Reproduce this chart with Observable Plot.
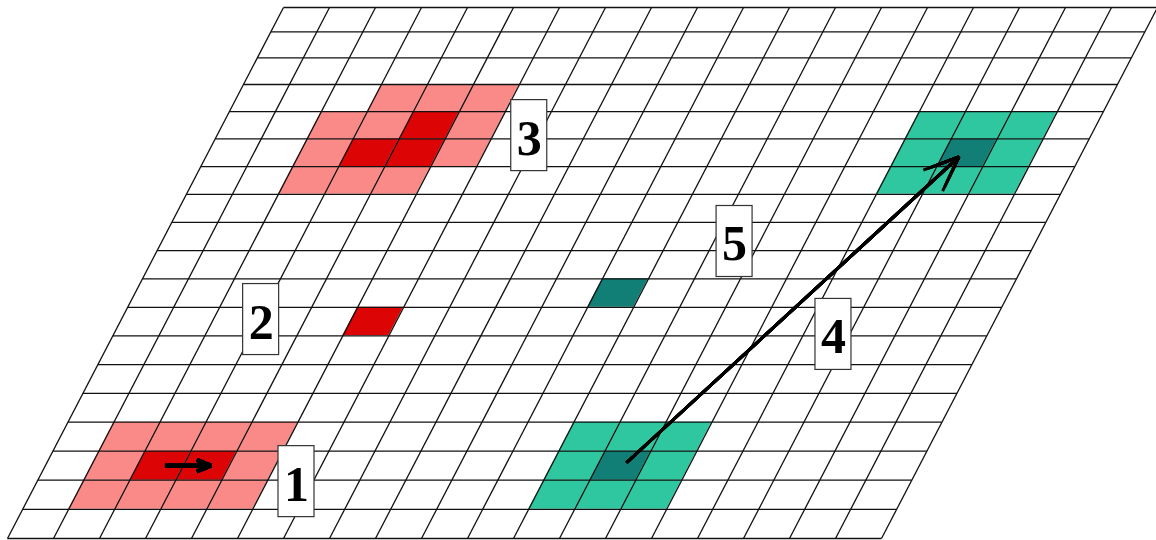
<!DOCTYPE html>
<html><head><meta charset="utf-8">
<script src="https://cdn.jsdelivr.net/npm/d3@7"></script>
<script src="https://cdn.jsdelivr.net/npm/@observablehq/plot@0.6"></script>
<style>html,body{margin:0;padding:0;background:#fff;} #chart svg{display:block}</style>
</head><body><div id="chart"></div>
<script>
// grid size (columns x rows)
const NCOLS = 19, NROWS = 19;
// coloured cells as [row, col] (row 0 = top, col 0 = left of each row)
const lightRedCells = [[3,3],[3,4],[3,5],[4,2],[4,3],[4,5],[5,2],[5,5],[6,2],[6,3],[6,4],
  [15,1],[15,2],[15,3],[15,4],[16,1],[16,4],[17,1],[17,2],[17,3],[17,4]];
const darkRedCells = [[4,4],[5,3],[5,4],[16,2],[16,3],[11,5]];
const lightTealCells = [[4,15],[4,16],[4,17],[5,15],[5,17],[6,15],[6,16],[6,17],
  [15,11],[15,12],[15,13],[16,11],[16,13],[17,11],[17,12],[17,13]];
const darkTealCells = [[5,16],[16,12],[10,10]];
const cellColors = {lightRed: "#f98a88", darkRed: "#dc0404", lightTeal: "#2fc79f", darkTeal: "#117f75"};
// numbered labels, positioned in grid units
const labelTexts = ["1","2","3","4","5"];
const labelCols = [5.64, 3.04, 6.79, 15.65, 12.45];
const labelRows = [17.05, 11.43, 4.88, 11.95, 8.68];
// arrows, [col, row] in grid units
const arrowFrom = [[2.6, 16.5], [12.6, 16.4]];
const arrowTo = [[3.6, 16.5], [16.37, 5.65]];
const arrowWidths = [4, 3];
const arrowHeads = [15, 19];

// geometry of the slanted grid
const SKEW = 6;        // horizontal shift of the top edge, in columns
const EXP = 1.046;     // slight perspective of the rows
const gx = (c, r) => c + SKEW * (1 - Math.pow(r / NROWS, EXP));

const cellPts = [];
let id = 0;
for (const [list, key] of [[lightRedCells,"lightRed"],[darkRedCells,"darkRed"],[lightTealCells,"lightTeal"],[darkTealCells,"darkTeal"]]) {
  for (const [r, c] of list) {
    for (const rr of [r, r + 1]) cellPts.push({id, y: rr, x1: gx(c, rr), x2: gx(c + 1, rr), fill: cellColors[key]});
    id++;
  }
}
const hLines = d3.range(NROWS + 1).map(r => ({x1: gx(0, r), x2: gx(NCOLS, r), y: r}));
const vLines = d3.range(NCOLS + 1).map(c => ({x1: gx(c, 0), y1: 0, x2: gx(c, NROWS), y2: NROWS}));
const labels = labelTexts.map((t, i) => ({t, x: gx(labelCols[i], labelRows[i]), y: labelRows[i]}));
const arrows = arrowFrom.map((f, i) => ({
  x1: gx(f[0], f[1]), y1: f[1], x2: gx(arrowTo[i][0], arrowTo[i][1]), y2: arrowTo[i][1],
  w: arrowWidths[i], h: arrowHeads[i]
}));

// layered arrow heads so that each head reads as a filled triangle
const arrowMarks = [];
for (const a of arrows) {
  for (const k of [1, 0.88, 0.76, 0.64, 0.52, 0.4, 0.28, 0.16]) {
    arrowMarks.push(Plot.arrow([a], {x1: "x1", y1: "y1", x2: "x2", y2: "y2", stroke: "#000",
      strokeWidth: a.w, headLength: a.h * k, headAngle: 44, bend: 0, strokeLinecap: "butt"}));
  }
}

const chart = Plot.plot({
  width: 1156, height: 540,
  margin: 0,
  x: {domain: [0, 25], range: [7, 7 + 25 * 46], axis: null},
  y: {type: "pow", exponent: EXP, domain: [0, NROWS], range: [7, 538], axis: null},
  color: {type: "identity"},
  style: {background: "#fff"},
  marks: [
    Plot.areaX(cellPts, {y: "y", x1: "x1", x2: "x2", z: "id", fill: "fill", curve: "linear"}),
    Plot.link(hLines, {x1: "x1", x2: "x2", y1: "y", y2: "y", stroke: "#111", strokeWidth: 1.3}),
    Plot.link(vLines, {x1: "x1", x2: "x2", y1: "y1", y2: "y2", stroke: "#111", strokeWidth: 1.3}),
    ...arrowMarks,
    Plot.rect(labels, {x1: "x", x2: "x", y1: "y", y2: "y", insetLeft: -18, insetRight: -18, insetTop: -35.5, insetBottom: -35.5,
      fill: "#fff", stroke: "#333", strokeWidth: 1.2}),
    Plot.text(labels, {x: "x", y: "y", text: "t", fontSize: 50, fontWeight: "bold",
      fontFamily: "Liberation Serif, Times New Roman, serif", fill: "#000", dy: 3})
  ]
});
document.getElementById("chart").appendChild(chart);
</script>
</body></html>
